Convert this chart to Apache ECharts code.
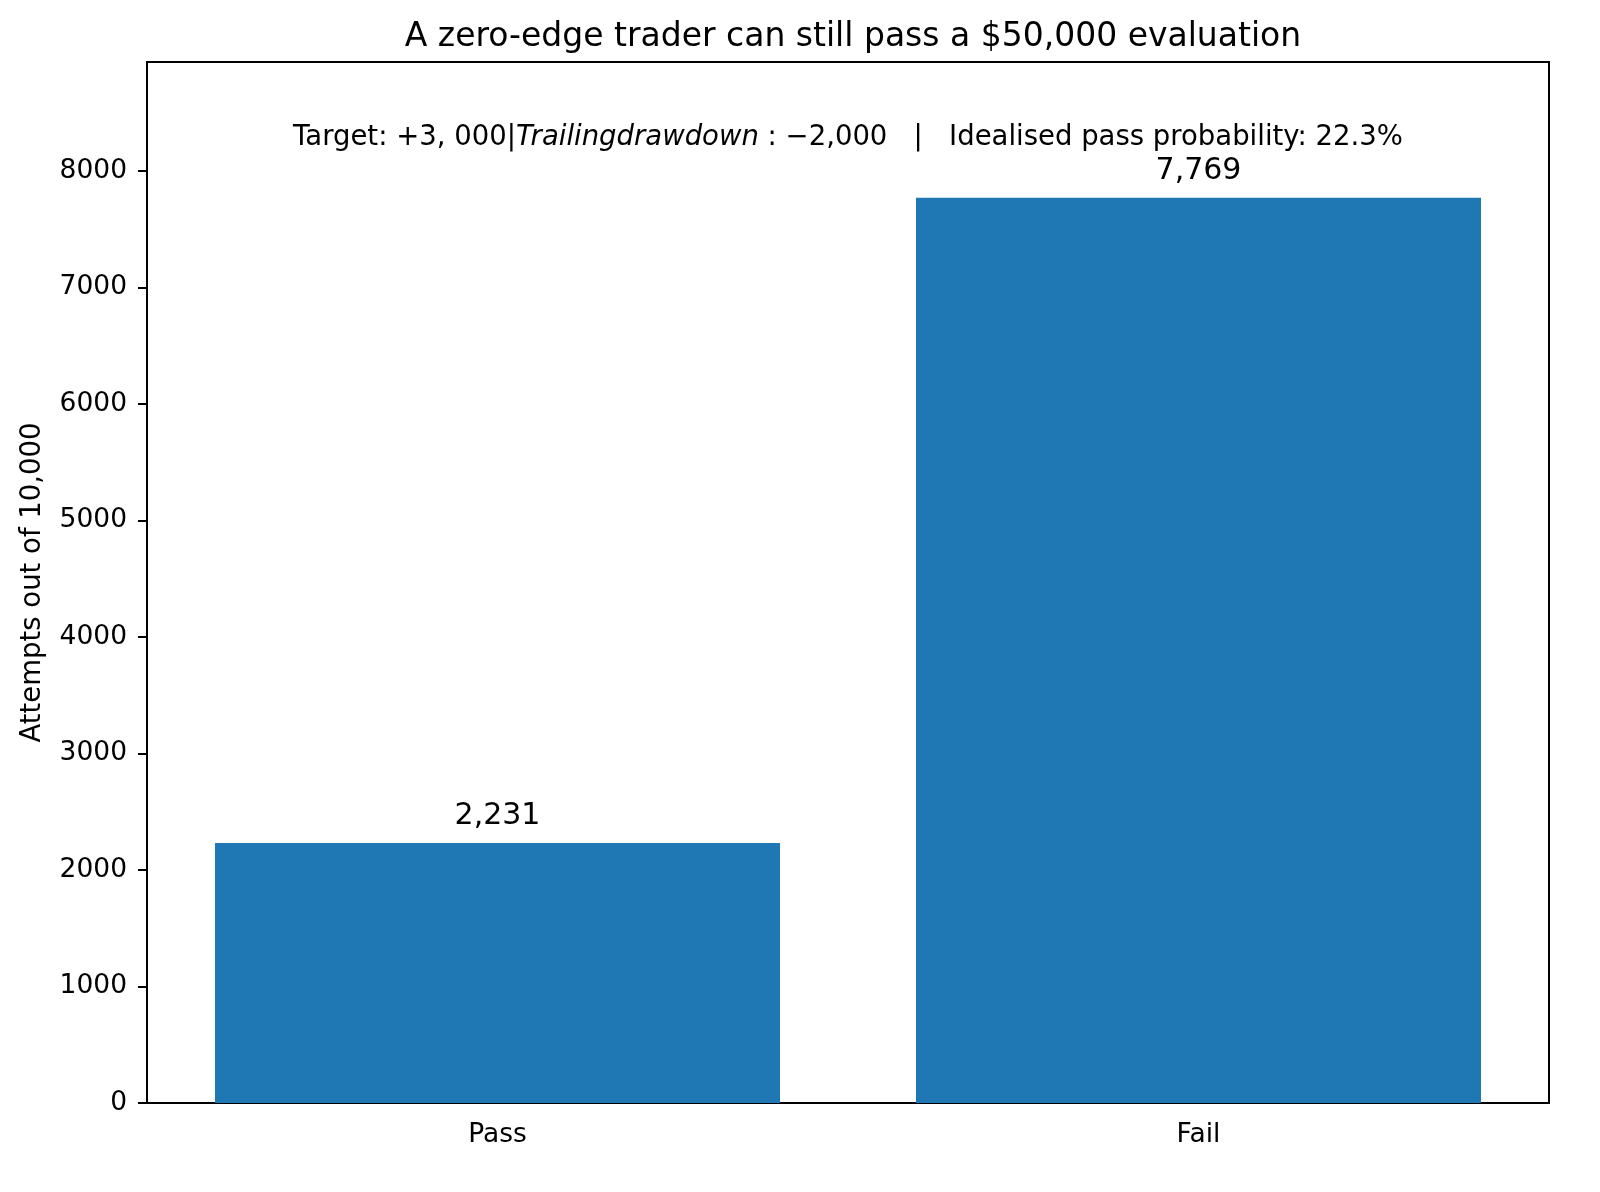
<!DOCTYPE html>
<html>
<head>
<meta charset="utf-8">
<script src="https://cdn.jsdelivr.net/npm/echarts@6/dist/echarts.min.js"></script>
<style>html,body{margin:0;padding:0;background:#fff;}#c{width:1600px;height:1192px;}</style>
</head>
<body>
<div id="c"></div>
<script>
const categories = ["Pass", "Fail"];
const attempts = [2231, 7769];
const yTicks = [0, 1000, 2000, 3000, 4000, 5000, 6000, 7000, 8000];
const titleText = "A zero-edge trader can still pass a $50,000 evaluation";
const yAxisName = "Attempts out of 10,000";

const F = "DejaVu Sans";
const chart = echarts.init(document.getElementById('c'), null, {renderer: 'canvas'});
chart.setOption({
  backgroundColor: '#ffffff',
  animation: false,
  title: {
    text: titleText,
    left: 848, top: 16, textAlign: 'center',
    textStyle: {fontFamily: F, fontSize: 33, fontWeight: 'normal', color: '#000'}
  },
  graphic: [{
    type: 'text', x: 848, y: 138,
    style: {
      text: '{a|Target: +3, 000|}{b|Trailingdrawdown}{a| : −2,000   |   Idealised pass probability: 22.3%}',
      textAlign: 'center', textVerticalAlign: 'middle',
      rich: {
        a: {fontFamily: F, fontSize: 27.5, fill: '#000', color: '#000'},
        b: {fontFamily: F, fontSize: 27.5, fontStyle: 'italic', fill: '#000', color: '#000'}
      }
    }
  }],
  grid: {left: 147, right: 51, top: 62, bottom: 89, show: true, borderColor: '#000', borderWidth: 2, backgroundColor: 'transparent'},
  xAxis: {
    type: 'category', data: categories, boundaryGap: true,
    axisLine: {lineStyle: {color: '#000', width: 2}},
    axisTick: {alignWithLabel: true, length: 9, lineStyle: {color: '#000', width: 2}},
    axisLabel: {fontFamily: F, fontSize: 26.5, color: '#000', margin: 19}
  },
  yAxis: {
    type: 'value', min: 0, max: 8934, interval: 1000,
    name: yAxisName, nameLocation: 'middle', nameGap: 100,
    nameTextStyle: {fontFamily: F, fontSize: 27.5, color: '#000'},
    axisLine: {show: true, lineStyle: {color: '#000', width: 2}},
    axisTick: {show: true, length: 9, lineStyle: {color: '#000', width: 2}},
    axisLabel: {fontFamily: F, fontSize: 26.5, color: '#000', margin: 20, showMaxLabel: false,
      formatter: v => yTicks.indexOf(v) >= 0 ? String(v) : ''},
    splitLine: {show: false}
  },
  series: [{
    type: 'bar', data: attempts, barWidth: '80.6%',
    itemStyle: {color: '#1f77b4'},
    label: {show: true, position: 'top', distance: 12, fontFamily: F, fontSize: 30, color: '#000',
      formatter: p => p.value.toLocaleString('en-US')}
  }]
});
</script>
</body>
</html>
